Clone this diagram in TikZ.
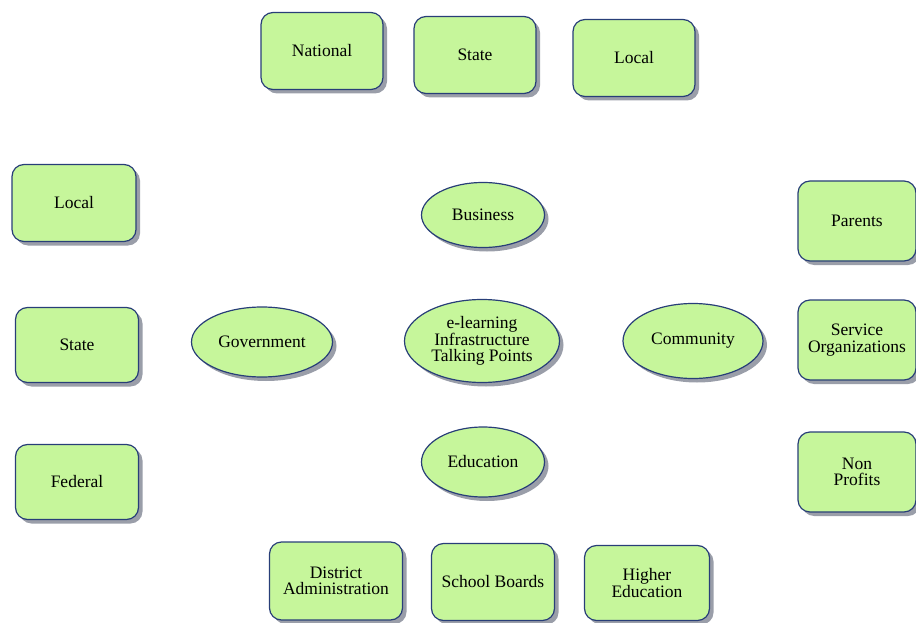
\documentclass[tikz,border=0pt]{standalone}
\usepackage{fontspec}
\setmainfont{Liberation Serif}
\usetikzlibrary{shapes.geometric,shadows}
\definecolor{boxfill}{RGB}{198,246,155}
\definecolor{boxline}{RGB}{40,62,120}
\definecolor{shadowgray}{RGB}{120,125,140}
\tikzset{
  base/.style={draw=boxline, line width=1.2pt, fill=boxfill, align=center,
    font=\fontsize{17.5}{16.5}\selectfont, inner sep=0pt,
    drop shadow={shadow xshift=4pt, shadow yshift=-4pt, fill=shadowgray, opacity=0.75}},
  rbox/.style={base, rectangle, rounded corners=12pt, minimum width=122pt, minimum height=77pt},
  oval/.style={base, ellipse}
}
\begin{document}
\begin{tikzpicture}[x=1pt,y=-1pt]
\useasboundingbox (0,0) rectangle (916,623);
% top row
\node[rbox] (national) at (322,51) {National};
\node[rbox] (statetop) at (475,55) {State};
\node[rbox] (localtop) at (634,58) {Local};
% left column
\node[rbox, minimum width=124pt] (localleft) at (74,203) {Local};
\node[rbox, minimum width=123pt, minimum height=75pt] (stateleft) at (77,345) {State};
\node[rbox, minimum width=123pt, minimum height=75pt] (federal) at (77,482) {Federal};
% right column
\node[rbox, minimum width=118pt, minimum height=80pt] (parents) at (857,221) {Parents};
\node[rbox, minimum width=118pt, minimum height=80pt] (service) at (857,340) {Service\\Organizations};
\node[rbox, minimum width=118pt, minimum height=80pt] (nonprofits) at (857,472) {Non\\Profits};
% bottom row
\node[rbox, minimum width=133pt, minimum height=78pt] (district) at (336,581) {District\\Administration};
\node[rbox, minimum width=123pt, minimum height=77pt] (boards) at (493,582) {School Boards};
\node[rbox, minimum width=125pt, minimum height=75pt] (higher) at (647,583) {Higher\\Education};
% ellipses
\node[oval, minimum width=123pt, minimum height=65pt] (business) at (483,215) {Business};
\node[oval, minimum width=155pt, minimum height=83pt] (center) at (482,341) {e-learning\\Infrastructure\\Talking Points};
\node[oval, minimum width=141pt, minimum height=70pt] (government) at (262,342) {Government};
\node[oval, minimum width=140pt, minimum height=75pt] (community) at (693,341) {Community};
\node[oval, minimum width=123pt, minimum height=70pt] (education) at (483,462) {Education};
\end{tikzpicture}
\end{document}
